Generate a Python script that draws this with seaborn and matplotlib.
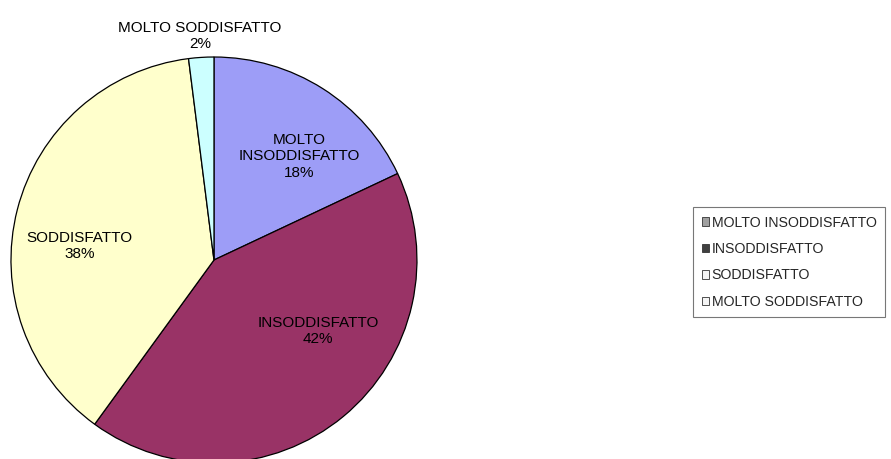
import numpy as np
import matplotlib
matplotlib.use("Agg")
import matplotlib.pyplot as plt
import seaborn as sns
from matplotlib.patches import Patch

# Dati
categorie = ["MOLTO INSODDISFATTO", "INSODDISFATTO", "SODDISFATTO", "MOLTO SODDISFATTO"]
percentuali = [18, 42, 38, 2]
etichette = ["MOLTO\nINSODDISFATTO\n18%", "INSODDISFATTO\n42%", "SODDISFATTO\n38%", "MOLTO SODDISFATTO\n2%"]
colori = ["#9d9df7", "#993366", "#ffffcc", "#ccffff"]
colori_legenda = ["#a0a0a0", "#404040", "#f4f4f4", "#f4f4f4"]

sns.set_style("white")
plt.rcParams['font.family'] = ['Liberation Sans', 'DejaVu Sans']

fig = plt.figure(figsize=(8.91, 4.59), dpi=100)
ax = fig.add_axes([0.0123, -0.0087, 0.4557, 0.8845])

wedges, _ = ax.pie(
    percentuali,
    colors=colori,
    startangle=90,
    counterclock=False,
    wedgeprops=dict(edgecolor="black", linewidth=0.9),
)

# posizione delle etichette (distanza relativa, spostamento angolare)
dist = [0.66, 0.62, 0.665, 1.105]
shift = [-7, 16, 8.4, 0]
for w, lab, d, s in zip(wedges, etichette, dist, shift):
    ang = np.deg2rad((w.theta1 + w.theta2) / 2 + s)
    ax.text(d * np.cos(ang), d * np.sin(ang), lab, ha="center", va="center",
            fontsize=11, linespacing=1.2, color="black")

ax.set_xlim(-1, 1)
ax.set_ylim(-1, 1)
ax.set_aspect("equal")
ax.axis("off")

handles = [Patch(facecolor=c, edgecolor="#333333", linewidth=0.6) for c in colori_legenda]
leg = fig.legend(handles, categorie, loc="upper left", bbox_to_anchor=(0.778, 0.549),
                 fontsize=10.2, frameon=True, fancybox=False, handlelength=0.55,
                 handleheight=0.55, handletextpad=0.15, labelspacing=0.88,
                 borderpad=0.6, borderaxespad=0)
leg.get_frame().set_edgecolor("#555555")
leg.get_frame().set_linewidth(0.8)

fig.savefig("out.png", dpi=100)
